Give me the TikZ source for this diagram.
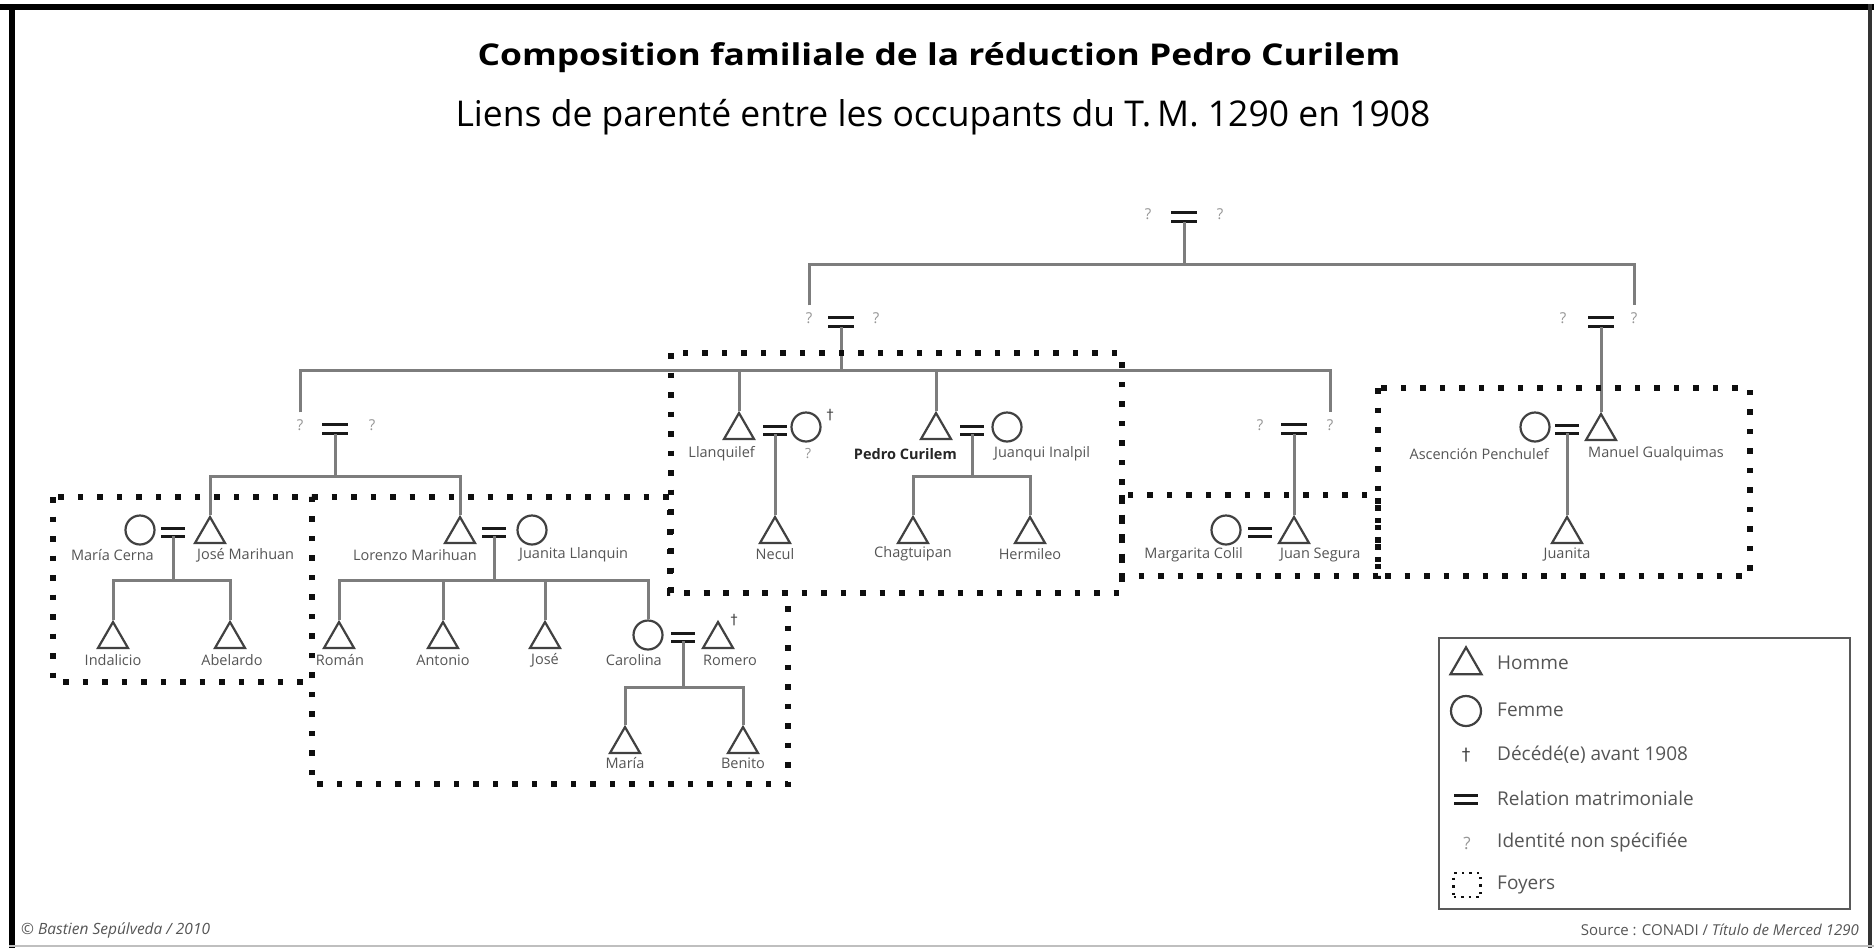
\documentclass[tikz,border=0pt]{standalone}
\usepackage{fontspec}
\setmainfont{Open Sans}
\newfontfamily\dejavu{DejaVu Sans}
\usetikzlibrary{shapes.geometric}
\definecolor{treegray}{RGB}{125,125,125}
\definecolor{symgray}{RGB}{65,65,65}
\definecolor{labgray}{RGB}{85,85,85}
\definecolor{unkgray}{RGB}{150,150,150}
\definecolor{dotblack}{RGB}{15,15,15}
\tikzset{
  tree/.style={draw=treegray, line width=3pt},
  man/.style={regular polygon, regular polygon sides=3, minimum size=34.6pt, inner sep=0pt,
              draw=symgray, line width=2.2pt, yshift=-4.33pt},
  woman/.style={circle, minimum size=29pt, inner sep=0pt, draw=symgray, line width=2.2pt},
  eqnode/.style={minimum width=24pt, minimum height=8pt, inner sep=0pt, outer sep=0pt},
  eqbig/.style={minimum width=26pt, minimum height=9.5pt, inner sep=0pt, outer sep=0pt},
  eqbar/.style={draw=black!90, line width=3pt},
  unk/.style={font=\fontsize{15}{15}\selectfont, text=unkgray, inner sep=0pt},
  lab/.style={font=\fontsize{14.5}{15}\selectfont, text=labgray, inner sep=0pt},
  kid/.style={lab},
  dag/.style={font=\dejavu\fontsize{14}{14}\selectfont, text=symgray, inner sep=0pt},
  foyer/.style={draw=dotblack, line width=5.5pt, dash pattern=on 5.5pt off 14pt},
  legtext/.style={font=\fontsize{19}{20}\selectfont, text=labgray, anchor=west, inner sep=0pt},
}
\newcommand{\marr}[4][eqnode]{%
  \node[#1] (#2) at (#3,#4) {};
  \draw[eqbar] (#2.north west) -- (#2.north east) (#2.south west) -- (#2.south east);
}
\begin{document}
\begin{tikzpicture}[x=1pt,y=-1pt]
\useasboundingbox (0,0) rectangle (1874,948);
% frame
\fill[white] (0,0) rectangle (1874,948);
\fill[black] (0,4) rectangle (1874,10);
\fill[black] (9,4) rectangle (15,948);
\fill[black!80] (1868,4) rectangle (1872,948);
\draw[black!25, line width=2pt] (9,946) -- (1874,946);

% titles
\node[font=\bfseries\fontsize{30}{32}\selectfont, inner sep=0pt] (title) at (939,58) {\scalebox{1.18}[1]{Composition familiale de la réduction Pedro Curilem}};
\node[font=\fontsize{35.5}{38}\selectfont, inner sep=0pt] (subtitle) at (943,117) {Liens de parenté entre les occupants du T.\,M. 1290 en 1908};

% level 1
\node[unk] (tq1) at (1148,214) {?};
\marr[eqbig]{tm}{1184}{217}
\node[unk] (tq2) at (1220,214) {?};

% level 2
\node[unk] (q2a) at (809,318) {?};
\marr[eqbig]{m2a}{841}{322}
\node[unk] (q2b) at (876,318) {?};
\node[unk] (q2c) at (1563,318) {?};
\marr[eqbig]{m2b}{1601}{322}
\node[unk] (q2d) at (1634,318) {?};

% level 3
\node[unk] (q3a) at (300,425) {?};
\marr[eqbig]{m3a}{335}{429}
\node[unk] (q3b) at (372,425) {?};
\node[unk] (q3c) at (1260,425) {?};
\marr[eqbig]{m3b}{1294}{429}
\node[unk] (q3d) at (1330,425) {?};

% central household
\node[man] (llan) at (739,426) {};
\marr{m7}{775}{430}
\node[woman] (llanw) at (806,427) {};
\node[dag] (dag1) at (830,415) {†};
\node[lab, anchor=east] (tllan) at (755,454) {Llanquilef};
\node[unk, font=\fontsize{14}{14}\selectfont] (tllanw) at (808,454) {?};
\node[man] (pedro) at (936,426) {};
\marr{m8}{972}{430}
\node[woman] (juanqui) at (1007,427) {};
\node[lab, anchor=east, font=\bfseries\fontsize{14.5}{15}\selectfont, text=black!85] (tpedro) at (957,454) {Pedro Curilem};
\node[lab, anchor=west] (tjuanqui) at (994,454) {Juanqui Inalpil};
\node[man] (necul) at (775,530) {};
\node[kid] (tnecul) at (775,554) {Necul};
\node[man] (chag) at (913,530) {};
\node[kid] (tchag) at (913,554) {Chagtuipan};
\node[man] (herm) at (1030,530) {};
\node[kid] (therm) at (1030,554) {Hermileo};

% María Cerna household
\node[woman] (mariac) at (140,530) {};
\marr{m4}{173}{532}
\node[man] (josem) at (210,530) {};
\node[lab, anchor=east] (tmariac) at (154,555) {María Cerna};
\node[lab, anchor=west] (tjosem) at (197,555) {José Marihuan};
\node[man] (indal) at (113,635) {};
\node[kid] (tindal) at (113,660) {Indalicio};
\node[man] (abel) at (230,635) {};
\node[kid] (tabel) at (232,660) {Abelardo};

% Lorenzo household
\node[man] (lorenzo) at (460,530) {};
\marr{m5}{494}{532}
\node[woman] (juanital) at (532,530) {};
\node[lab, anchor=east] (tlorenzo) at (477,555) {Lorenzo Marihuan};
\node[lab, anchor=west] (tjuanital) at (519,555) {Juanita Llanquin};
\node[man] (roman) at (339,635) {};
\node[kid] (troman) at (340,660) {Román};
\node[man] (antonio) at (443,635) {};
\node[kid] (tantonio) at (443,660) {Antonio};
\node[man] (jose) at (545,635) {};
\node[kid] (tjose) at (545,660) {José};
\node[woman] (carol) at (648,635) {};
\node[lab, anchor=east] (tcarol) at (662,660) {Carolina};
\marr{m6}{683}{637}
\node[man] (romero) at (718,635) {};
\node[dag] (dag2) at (734,620) {†};
\node[lab, anchor=west] (tromero) at (703,660) {Romero};
\node[man] (maria) at (625,740) {};
\node[kid] (tmaria) at (625,763) {María};
\node[man] (benito) at (743,740) {};
\node[kid] (tbenito) at (743,763) {Benito};

% Juan Segura household
\node[woman] (margarita) at (1226,530) {};
\marr{m10}{1260}{532}
\node[man] (juan) at (1294,530) {};
\node[lab, anchor=east] (tmargarita) at (1243,555) {Margarita Colil};
\node[lab, anchor=west] (tjuan) at (1280,555) {Juan Segura};

% Manuel household
\node[woman] (ascen) at (1535,427) {};
\marr{m9}{1567}{429}
\node[man] (manuel) at (1601,427) {};
\node[lab, anchor=east] (tascen) at (1549,454) {Ascención Penchulef};
\node[lab, anchor=west] (tmanuel) at (1588,454) {Manuel Gualquimas};
\node[man] (juanita) at (1567,530) {};
\node[kid] (tjuanita) at (1567,555) {Juanita};

% connectors
\coordinate (bus1) at (0,264);
\coordinate (bus2) at (0,370);
\coordinate (bus3) at (0,476);
\coordinate (bus4) at (0,580);
\coordinate (bus5) at (0,687);
\draw[tree] (tm.south) -- (tm.south |- bus1);
\draw[tree] ([yshift=7pt]q2a.north) |- (bus1 -| q2d.north) -- ([yshift=7pt]q2d.north);
\draw[tree] (m2a.south) -- (m2a.south |- bus2);
\draw[tree] ([yshift=7pt]q3a.north) |- (bus2 -| q3d.north) -- ([yshift=7pt]q3d.north);
\draw[tree] (llan.corner 1) -- (llan.corner 1 |- bus2);
\draw[tree] (pedro.corner 1) -- (pedro.corner 1 |- bus2);
\draw[tree] (m2b.south) -- (manuel.corner 1);
\draw[tree] (m3a.south) -- (m3a.south |- bus3);
\draw[tree] (josem.corner 1) |- (bus3 -| lorenzo.corner 1) -- (lorenzo.corner 1);
\draw[tree] (m3b.south) -- (juan.corner 1);
\draw[tree] (m7.south) -- (necul.corner 1);
\draw[tree] (m8.south) -- (m8.south |- bus3);
\draw[tree] (chag.corner 1) |- (bus3 -| herm.corner 1) -- (herm.corner 1);
\draw[tree] (m4.south) -- (m4.south |- bus4);
\draw[tree] (indal.corner 1) |- (bus4 -| abel.corner 1) -- (abel.corner 1);
\draw[tree] (m5.south) -- (m5.south |- bus4);
\draw[tree] (roman.corner 1) |- (bus4 -| carol.north) -- (carol.north);
\draw[tree] (antonio.corner 1) -- (antonio.corner 1 |- bus4);
\draw[tree] (jose.corner 1) -- (jose.corner 1 |- bus4);
\draw[tree] (m6.south) -- (m6.south |- bus5);
\draw[tree] (maria.corner 1) |- (bus5 -| benito.corner 1) -- (benito.corner 1);
\draw[tree] (m9.south) -- (juanita.corner 1);

% households (foyers)
\draw[foyer] (53,497) rectangle (312,682);
\draw[foyer] (312,497) -- (670,497) -- (670,593) -- (788,593) -- (788,784) -- (312,784) -- cycle;
\draw[foyer] (671,353) rectangle (1122,593);
\draw[foyer] (1122,495) rectangle (1378,576);
\draw[foyer] (1378,388) rectangle (1750,576);

% legend
\node[draw=black!65, line width=2.5pt, minimum width=411pt, minimum height=271pt, inner sep=0pt] (legend) at (1644.5,773.5) {};
\node[man, minimum size=36pt] (lgman) at (1466,661) {};
\node[legtext] (lgmant) at (1497,663) {Homme};
\node[woman, minimum size=30pt] (lgwoman) at (1466,711) {};
\node[legtext] (lgwomant) at (1497,710) {Femme};
\node[dag, font=\dejavu\fontsize{17}{17}\selectfont] (lgdag) at (1466,755) {†};
\node[legtext] (lgdagt) at (1497,755) {Décédé(e) avant 1908};
\marr{lgeq}{1466}{799}
\node[legtext] (lgeqt) at (1497,798) {Relation matrimoniale};
\node[unk, font=\fontsize{17}{17}\selectfont] (lgq) at (1467,843) {?};
\node[legtext] (lgqt) at (1497,842) {Identité non spécifiée};
\node[draw=dotblack, line width=2.5pt, dash pattern=on 2.5pt off 5pt, minimum width=27pt, minimum height=24pt, inner sep=0pt] (lgfoyer) at (1467,885) {};
\node[legtext] (lgfoyert) at (1497,885) {Foyers};

% credits
\node[font=\itshape\fontsize{15.5}{16}\selectfont, text=labgray, anchor=west, inner sep=0pt] (copyr) at (21,930) {© Bastien Sepúlveda / 2010};
\node[font=\fontsize{15}{16}\selectfont, text=labgray, anchor=east, inner sep=0pt] (source) at (1859,930) {Source : CONADI / \textit{Título de Merced 1290}};
\end{tikzpicture}
\end{document}
